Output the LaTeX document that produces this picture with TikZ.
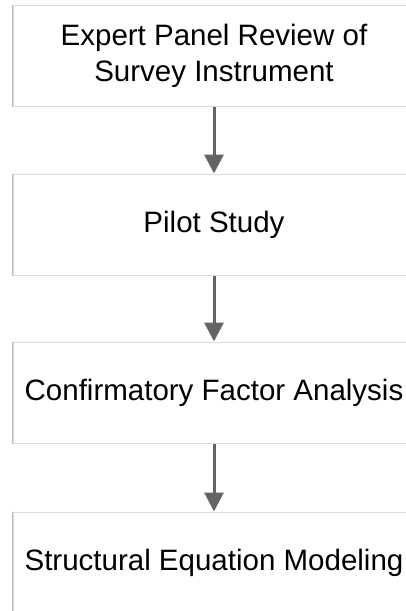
\documentclass[tikz,border=0pt]{standalone}
\usepackage{fontspec}
\setmainfont{Liberation Sans}
\usetikzlibrary{arrows.meta}
\definecolor{boxline}{RGB}{218,218,218}
\definecolor{boxside}{RGB}{185,185,185}
\definecolor{flowarrow}{RGB}{100,100,100}
\begin{document}
\begin{tikzpicture}[x=1pt,y=-1pt,
  stagebox/.style={draw=boxline, line width=1pt, fill=white, rectangle,
    minimum width=402pt, minimum height=101pt, inner sep=0pt,
    align=center, font=\fontsize{29.5}{36}\selectfont},
  leftedge/.style={draw=boxside, line width=1pt},
  flow/.style={draw=flowarrow, line width=3pt,
    -{Triangle[width=19pt,length=19pt]}, shorten <=0.5pt}]
  \useasboundingbox (0,0) rectangle (406,611);
  \clip (0,0) rectangle (406,611);
  % the four stages of the study
  \node[stagebox] (expert) at (214,55.5) {Expert Panel Review of\\Survey Instrument};
  \node[stagebox] (pilot) at (214,224.5) {Pilot Study};
  \node[stagebox] (cfa) at (214,392.5) {Confirmatory Factor Analysis};
  \node[stagebox] (sem) at (214,562.5) {Structural Equation Modeling};
  % slightly darker left border on every box
  \foreach \b in {expert,pilot,cfa,sem}
    \draw[leftedge] (\b.north west) -- (\b.south west);
  % connectors between consecutive stages
  \draw[flow] (expert) -- (pilot);
  \draw[flow] (pilot) -- (cfa);
  \draw[flow] (cfa) -- (sem);
\end{tikzpicture}
\end{document}
